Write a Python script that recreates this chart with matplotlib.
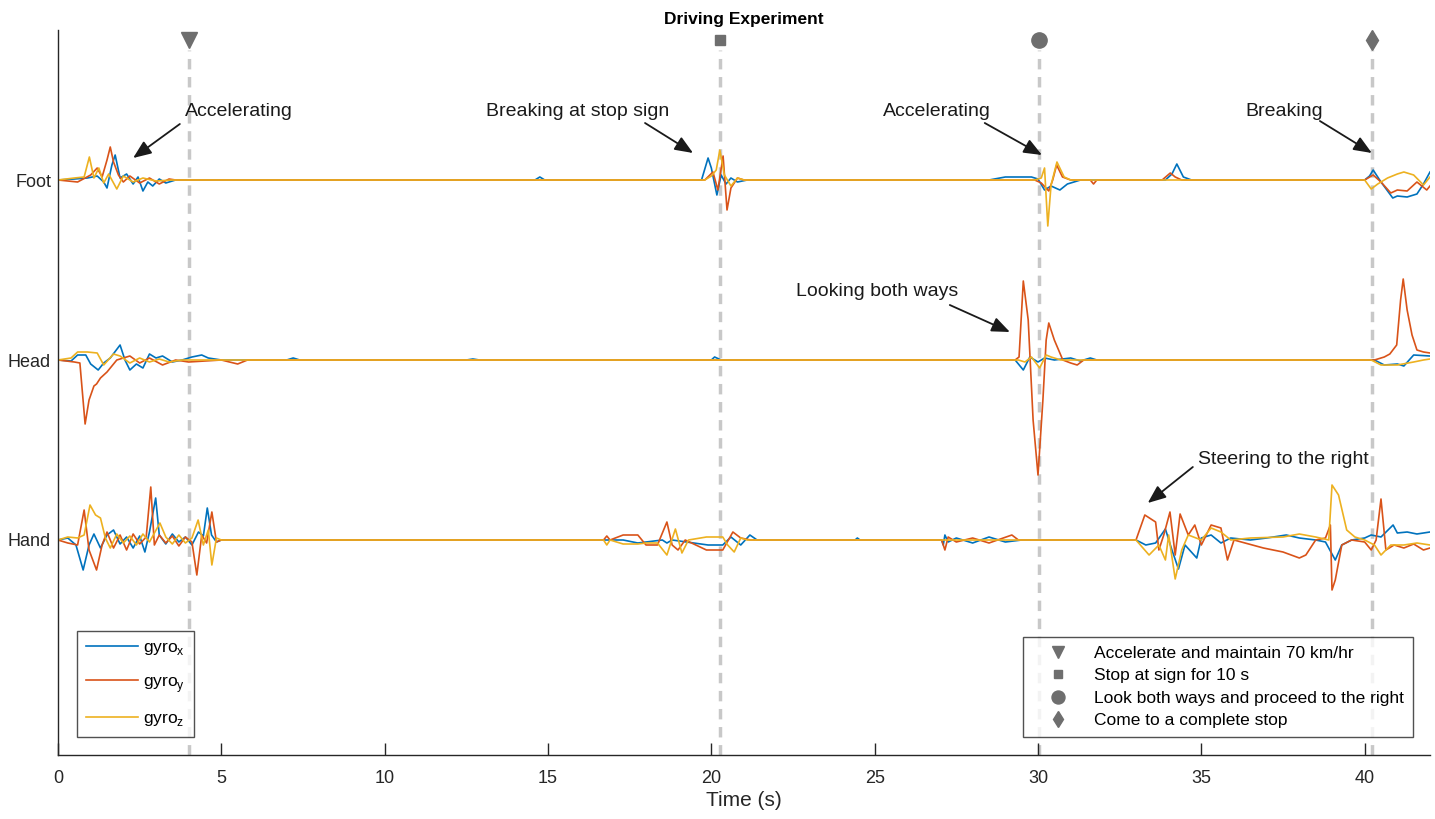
import matplotlib
matplotlib.use("Agg")
import matplotlib.pyplot as plt
from matplotlib.lines import Line2D

plt.rcParams['font.family'] = ['Liberation Sans', 'DejaVu Sans']
plt.rcParams['mathtext.fontset'] = 'custom'
plt.rcParams['mathtext.rm'] = 'Liberation Sans'

# channel offsets (one sensor per row)
offsets = {'Foot': 360, 'Head': 180, 'Hand': 0}

# ---- Foot ----
foot_x_t = [0, 0.5, 0.9, 1.2, 1.4, 1.5, 1.65, 1.75, 1.9, 2.1, 2.3, 2.45, 2.6, 2.75, 2.9, 3.1, 3.3, 3.6,
            14.6, 14.75, 14.9, 19.7, 19.9, 20.0, 20.17, 20.3, 20.45, 20.6, 20.8, 21.1,
            28.5, 29.0, 29.8, 30.0, 30.2, 30.4, 30.67, 30.9, 31.3, 33.9, 34.1, 34.25, 34.45, 34.7,
            40.0, 40.15, 40.26, 40.5, 40.86, 41.0, 41.3, 41.6, 41.8, 42]
foot_x_v = [0, 1, 2, 4, -2, -8, 15, 25, 2, 6, -4, 3, -11, -2, -6, 1, -3, 0,
            0, 3, 0, 0, 22, 12, -15, 5, -4, 2, -2, 0,
            0, 3, 3, 1, -10, -6, -10, -4, 0, 0, 6, 16, 3, 0,
            0, 4, 10, -2, -18, -16, -17, -14, -4, 8]
foot_y_t = [0, 0.6, 1.0, 1.2, 1.35, 1.5, 1.6, 1.7, 1.85, 2.0, 2.2, 2.5, 2.8, 3.1, 3.4, 3.6,
            19.8, 20.05, 20.2, 20.36, 20.48, 20.6, 20.8, 21.0,
            29.9, 30.1, 30.33, 30.45, 30.57, 30.75, 31.0, 31.6, 31.7, 31.8, 33.8, 34.05, 34.2, 34.4,
            40.0, 40.26, 40.5, 40.8, 41.0, 41.3, 41.6, 41.9, 42]
foot_y_v = [0, -2, 5, 12, 3, 20, 33, 18, 5, -2, 4, -3, 2, -4, 1, 0,
            0, 8, -10, 24, -30, -8, 2, 0,
            0, -3, -11, 0, 15, 3, 0, 0, -4, 0, 0, 7, 3, 0,
            0, 5, -2, -13, -10, -11, -2, -10, -6]
foot_z_t = [0, 0.5, 0.8, 0.96, 1.1, 1.25, 1.4, 1.55, 1.8, 2.0, 2.3, 2.6, 3.0, 3.5,
            19.8, 20.0, 20.15, 20.26, 20.4, 20.6, 20.8, 21.0,
            29.9, 30.1, 30.2, 30.3, 30.4, 30.58, 30.8, 31.0,
            40.0, 40.2, 40.4, 40.7, 41.0, 41.2, 41.5, 41.8, 42]
foot_z_v = [0, 2, 3, 23, 2, 12, -3, 6, -9, 4, -2, 2, -1, 0,
            0, 4, 10, 30, 5, -6, 2, 0,
            0, 2, 12, -46, -5, 18, 3, 0,
            0, -9, -4, 2, 6, 8, 5, -5, 3]

# ---- Head ----
head_x_t = [0, 0.4, 0.6, 0.85, 1.0, 1.23, 1.4, 1.6, 1.9, 2.05, 2.2, 2.4, 2.6, 2.8, 3.0, 3.2, 3.5, 3.8,
            4.1, 4.4, 4.6, 5.0, 7.0, 7.2, 7.4, 12.5, 12.7, 12.9, 20.0, 20.1, 20.3,
            29.3, 29.55, 29.75, 30.0, 30.2, 30.5, 31.0, 31.3, 31.6, 31.8,
            40.3, 40.6, 41.0, 41.2, 41.5, 42]
head_x_v = [0, -1, 5, 5, -4, -10, -3, 2, 15, 0, -10, -4, -8, 6, 2, 4, -2, 0,
            3, 5, 2, 0, 0, 2, 0, 0, 1, 0, 0, 3, 0,
            0, -10, 3, -2, 2, 0, 2, -1, 2, 0,
            0, -5, -4, -6, 5, 4]
head_y_t = [0, 0.5, 0.67, 0.83, 0.95, 1.1, 1.18, 1.3, 1.5, 1.8, 2.2, 2.5, 2.8, 3.2, 3.6, 4.0, 5.0, 5.5, 5.8,
            29.3, 29.42, 29.55, 29.7, 29.85, 30.0, 30.15, 30.25, 30.33, 30.5, 30.76, 31.0, 31.2, 31.4,
            40.3, 40.6, 40.77, 40.98, 41.1, 41.18, 41.3, 41.45, 41.6, 41.8, 42]
head_y_v = [0, -2, -3, -64, -40, -26, -24, -18, -12, 0, 4, -3, 2, -5, 0, -2, 0, -4, 0,
            0, 3, 79, 40, -60, -115, -40, 20, 37, 20, 0, -3, -5, 0,
            0, 3, 6, 15, 60, 81, 50, 25, 10, 8, 7]
head_z_t = [0, 0.4, 0.6, 0.9, 1.2, 1.4, 1.7, 1.9, 2.2, 2.5, 2.8, 3.1, 3.4, 3.8,
            29.4, 29.6, 29.8, 30.05, 30.25, 30.4, 30.7,
            40.2, 40.5, 41.0, 41.5, 41.8, 42]
head_z_v = [0, 2, 8, 8, 7, -5, 6, 4, -3, 2, -2, 1, -2, 0,
            0, -2, 3, -8, 5, 3, 0,
            0, -5, -5, -2, 0, 1]

# ---- Hand ----
hand_x_t = [0, 0.3, 0.55, 0.77, 0.95, 1.1, 1.3, 1.5, 1.7, 1.9, 2.1, 2.3, 2.5, 2.66, 2.8, 2.99, 3.1, 3.3,
            3.5, 3.7, 3.9, 4.1, 4.3, 4.45, 4.57, 4.7, 4.85, 5.0,
            17.3, 17.75, 18.5, 18.64, 18.8, 19.9, 20.35, 20.6, 20.9, 21.18, 21.4,
            24.4, 24.47, 24.55, 27.05, 27.1, 27.15, 27.25, 27.5, 28.0, 28.5, 29.0, 29.5,
            33.0, 33.3, 33.6, 33.9, 34.1, 34.3, 34.5, 34.86, 35.0, 35.3, 35.6, 35.9, 36.5, 37.0,
            37.6, 38.0, 38.5, 38.8, 39.1, 39.3, 39.6, 40.0, 40.2, 40.5, 40.87, 41.0, 41.3, 41.6, 42]
hand_x_v = [0, 2, -5, -30, -5, 6, -8, 5, 10, -4, 3, -8, 4, -12, 8, 42, 5, -4,
            6, -2, 3, -5, 8, 4, 32, 5, -2, 0,
            0, -3, 0, -3, 0, -5, -5, 3, -5, 5, 0,
            0, 2, 0, 0, -5, 5, -2, 2, -3, 3, -2, 0,
            0, -5, -3, 11, -10, -29, -5, -18, 2, 5, -3, 2, 0, 2,
            5, 2, 0, -2, -20, -5, 0, 2, 5, 3, 15, 7, 8, 6, 8]
hand_y_t = [0, 0.3, 0.6, 0.8, 0.95, 1.18, 1.35, 1.5, 1.7, 1.9, 2.1, 2.3, 2.5, 2.7, 2.84, 2.95, 3.1, 3.3,
            3.5, 3.7, 3.9, 4.1, 4.25, 4.4, 4.55, 4.71, 4.85, 5.0,
            16.7, 16.8, 16.9, 17.3, 17.75, 18.0, 18.35, 18.64, 18.8, 18.98, 19.2,
            19.85, 20.35, 20.66, 20.9, 21.2,
            27.05, 27.15, 27.25, 27.5, 28.0, 28.5, 29.2, 29.4,
            33.0, 33.27, 33.6, 33.7, 33.85, 34.04, 34.2, 34.35, 34.6, 34.8, 35.0, 35.3, 35.6, 35.8, 36.0,
            36.9, 37.5, 38.0, 38.2, 38.5, 38.8, 38.95, 39.0, 39.1, 39.3, 39.6, 40.0, 40.2, 40.35, 40.5,
            40.65, 40.9, 41.2, 41.5, 41.8, 42]
hand_y_v = [0, -3, -5, 30, -10, -30, -5, 8, -8, 5, -10, 6, -4, 3, 53, -5, 5, -3,
            4, -6, 3, -2, -35, 5, -3, 28, -2, 0,
            0, 4, 0, 5, 5, -5, -5, 18, -5, -10, 0,
            -10, -10, 8, 2, 0,
            0, -10, 3, -2, 2, -3, 5, 0,
            0, 25, 18, -10, 5, 28, -15, 26, 5, 15, -5, 15, 12, -20, 0,
            -8, -12, -18, -15, 0, 2, 15, -50, -40, -5, 0, -2, -10, 0, 41,
            -10, -5, -8, -4, -10, -8]
hand_z_t = [0, 0.3, 0.6, 0.8, 0.98, 1.15, 1.3, 1.45, 1.6, 1.8, 2.0, 2.2, 2.4, 2.6, 2.8, 3.12, 3.3, 3.5,
            3.7, 3.9, 4.1, 4.29, 4.45, 4.6, 4.71, 4.85, 5.0,
            16.7, 16.8, 16.9, 17.3, 17.75, 18.0, 18.35, 18.64, 18.9, 19.1, 19.3,
            19.85, 20.35, 20.5, 20.7, 20.9, 21.1,
            33.0, 33.4, 33.7, 33.9, 34.0, 34.2, 34.4, 34.6, 35.0, 35.3, 35.6, 35.9, 36.5, 37.5,
            38.0, 38.5, 38.9, 39.0, 39.2, 39.45, 39.7, 40.0, 40.3, 40.5, 40.8, 41.2, 41.6, 42]
hand_z_v = [0, 3, 2, 5, 35, 25, 22, 2, -8, 6, -3, 4, -5, 6, -2, 17, 3, -4,
            5, -3, 2, 20, -5, 10, -25, 2, 0,
            0, -5, 0, -4, -4, -3, -3, -15, 11, -13, 0,
            3, 3, -5, -12, 2, 0,
            0, -15, -5, -20, 5, -39, -10, 5, 0, 12, 8, 0, 2, 3,
            6, 3, 0, 55, 45, 10, 3, 0, -5, -15, -5, -5, -3, -5]

series = {
    'Foot': [(foot_x_t, foot_x_v), (foot_y_t, foot_y_v), (foot_z_t, foot_z_v)],
    'Head': [(head_x_t, head_x_v), (head_y_t, head_y_v), (head_z_t, head_z_v)],
    'Hand': [(hand_x_t, hand_x_v), (hand_y_t, hand_y_v), (hand_z_t, hand_z_v)],
}
gyro_labels = [r'gyro$_\mathregular{x}$', r'gyro$_\mathregular{y}$', r'gyro$_\mathregular{z}$']
colors = ['#0072BD', '#D95319', '#EDB120']

# events
event_t = [4.0, 20.26, 30.03, 40.22]
event_markers = ['v', 's', 'o', 'd']
event_sizes = [11, 7, 11, 10]
event_labels = ['Accelerate and maintain 70 km/hr', 'Stop at sign for 10 s',
                'Look both ways and proceed to the right', 'Come to a complete stop']

# annotations: text, text pos, arrow tail, arrow head
notes = [
    ('Accelerating', (5.54, 429), (3.73, 416), (2.30, 382)),
    ('Breaking at stop sign', (15.92, 429), (17.97, 417), (19.44, 387)),
    ('Accelerating', (26.9, 429), (28.37, 417), (30.12, 385)),
    ('Breaking', (37.53, 429), (38.63, 419), (40.22, 387)),
    ('Looking both ways', (25.07, 249), (27.3, 235), (29.14, 208)),
    ('Steering to the right', (37.5, 81), (34.74, 73), (33.36, 37)),
]

fig = plt.figure(figsize=(14.35, 8.19), dpi=100)
ax = fig.add_axes([58 / 1435, 64 / 819, 1372 / 1435, 725 / 819])
txt_color = '#262626'

# dashed event lines and markers
ev_color = '#6e6e6e'
for t, m, s in zip(event_t, event_markers, event_sizes):
    ax.plot([t, t], [-215, 490], color='#c8c8c8', lw=2.5, dashes=(3, 2.2), zorder=1)
    ax.plot(t, 500, marker=m, color=ev_color, ms=s, ls='none', zorder=3)

gyro_handles = []
for name, chans in series.items():
    off = offsets[name]
    for i, (tt, vv) in enumerate(chans):
        h, = ax.plot(tt, [off + v for v in vv], color=colors[i], lw=1.2, zorder=2)
        if name == 'Hand':
            gyro_handles.append(h)

for txt, tpos, tail, head in notes:
    ax.text(tpos[0], tpos[1], txt, ha='center', va='center', fontsize=14, color='#1a1a1a')
    ax.annotate('', xy=head, xytext=tail,
                arrowprops=dict(arrowstyle='-|>,head_length=1.1,head_width=0.45',
                                color='#1a1a1a', lw=1.3, shrinkA=0, shrinkB=0))

ax.set_xlim(0, 42)
ax.set_ylim(-215, 510)
ax.set_xticks([0, 5, 10, 15, 20, 25, 30, 35, 40])
ax.set_yticks([offsets['Hand'], offsets['Head'], offsets['Foot']])
ax.set_yticklabels(['Hand', 'Head', 'Foot'])
ax.tick_params(axis='x', direction='in', length=9, width=1, labelsize=13, colors=txt_color, pad=11)
ax.tick_params(axis='y', length=0, labelsize=13, colors=txt_color, pad=5)
for sp in ['top', 'right']:
    ax.spines[sp].set_visible(False)
for sp in ['left', 'bottom']:
    ax.spines[sp].set_color(txt_color)
    ax.spines[sp].set_linewidth(1)

ax.set_xlabel('Time (s)', fontsize=15, color=txt_color, labelpad=3)
ax.set_title('Driving Experiment', fontsize=12.5, fontweight='bold', pad=4)

leg1 = ax.legend(gyro_handles, gyro_labels, loc='lower left', bbox_to_anchor=(0.0138, 0.025),
                 fontsize=12.5, frameon=True, fancybox=False, edgecolor=txt_color,
                 handlelength=3.0, labelspacing=0.95, borderaxespad=0, handletextpad=0.3,
                 borderpad=0.5)
leg1.get_frame().set_linewidth(1)
ax.add_artist(leg1)

ev_handles = [Line2D([], [], marker=m, color=ev_color, ms=s * 0.85, ls='none')
              for m, s in zip(event_markers, event_sizes)]
leg2 = ax.legend(ev_handles, event_labels, loc='lower right', bbox_to_anchor=(0.9876, 0.025),
                 fontsize=12.5, frameon=True, fancybox=False, edgecolor=txt_color,
                 handlelength=3.0, labelspacing=0.42, borderaxespad=0, handletextpad=0.6,
                 borderpad=0.5)
leg2.get_frame().set_linewidth(1)

fig.savefig('out.png', dpi=100)
